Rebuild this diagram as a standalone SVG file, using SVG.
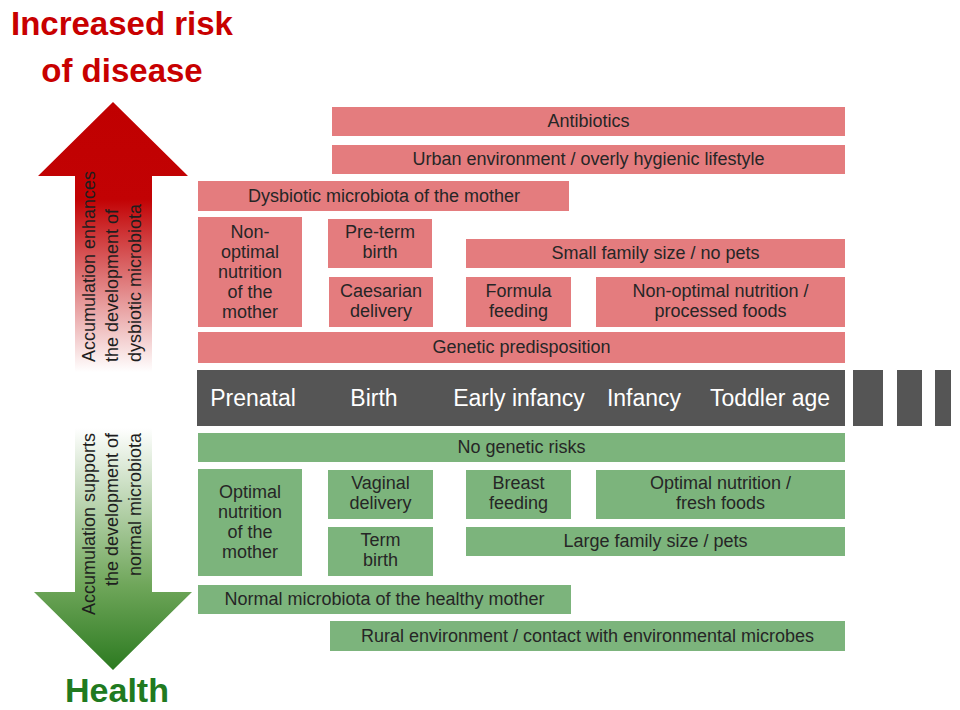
<svg xmlns="http://www.w3.org/2000/svg" width="960" height="710" viewBox="0 0 960 710">
<defs>
<linearGradient id="gRed" gradientUnits="userSpaceOnUse" x1="0" y1="102" x2="0" y2="372">
<stop offset="0" stop-color="#C00000"/>
<stop offset="0.36" stop-color="#C20204"/>
<stop offset="1" stop-color="#FFFFFF"/>
</linearGradient>
<linearGradient id="gGreen" gradientUnits="userSpaceOnUse" x1="0" y1="428" x2="0" y2="670">
<stop offset="0" stop-color="#FFFFFF"/>
<stop offset="0.65" stop-color="#6FA65A"/>
<stop offset="1" stop-color="#2C7A20"/>
</linearGradient>
</defs>
<style>
.r{fill:#E47C7E}
.g{fill:#7CB47C}
.t{font-family:"Liberation Sans",Arial,sans-serif;font-size:18px;fill:#262626;text-anchor:middle}
.tl{font-family:"Liberation Sans",Arial,sans-serif;font-size:23px;fill:#FFFFFF;text-anchor:middle}
.bar{fill:#555555}
.v{font-family:"Liberation Sans",Arial,sans-serif;font-size:18px;fill:#1E1E1E}
.title{font-family:"Liberation Sans",Arial,sans-serif;font-weight:bold;text-anchor:middle}
</style>
<rect width="960" height="710" fill="#FFFFFF"/>

<g id="titles">
<text class="title" x="122" y="35" font-size="33" fill="#C80000">Increased risk</text>
<text class="title" x="122" y="82" font-size="33" fill="#C80000">of disease</text>
<text class="title" x="117" y="702" font-size="34" fill="#207A20">Health</text>
</g>

<g id="arrows">
<polygon points="113,102 188,176 152,176 152,372 75,372 75,176 38,176" fill="url(#gRed)"/>
<polygon points="75,428 152,428 152,592 192,592 113,670 34,592 75,592" fill="url(#gGreen)"/>
<g class="v">
<text transform="translate(95,362) rotate(-90)">Accumulation enhances</text>
<text transform="translate(118,362) rotate(-90)">the development of</text>
<text transform="translate(141,362) rotate(-90)">dysbiotic microbiota</text>
<text transform="translate(95,433) rotate(-90)" text-anchor="end">Accumulation supports</text>
<text transform="translate(118,433) rotate(-90)" text-anchor="end">the development of</text>
<text transform="translate(141,433) rotate(-90)" text-anchor="end">normal microbiota</text>
</g>
</g>

<g id="antibiotics"><rect class="r" x="332" y="107" width="513" height="29"/><text class="t" x="588.5" y="127">Antibiotics</text></g>
<g id="urban"><rect class="r" x="332" y="145" width="513" height="29"/><text class="t" x="588.5" y="165">Urban environment / overly hygienic lifestyle</text></g>
<g id="dysbiotic-mother"><rect class="r" x="198" y="181" width="371" height="30"/><text class="t" x="384" y="202">Dysbiotic microbiota of the mother</text></g>
<g id="nonoptimal-mother"><rect class="r" x="198" y="217" width="104" height="110"/>
<text class="t" x="250" y="238">Non-</text><text class="t" x="250" y="258">optimal</text><text class="t" x="250" y="278">nutrition</text><text class="t" x="250" y="298">of the</text><text class="t" x="250" y="318">mother</text></g>
<g id="preterm"><rect class="r" x="328" y="219" width="104" height="49"/><text class="t" x="380" y="238">Pre-term</text><text class="t" x="380" y="258">birth</text></g>
<g id="caesarian"><rect class="r" x="329" y="277" width="104" height="50"/><text class="t" x="381" y="297">Caesarian</text><text class="t" x="381" y="317">delivery</text></g>
<g id="small-family"><rect class="r" x="466" y="239" width="379" height="29"/><text class="t" x="655.5" y="259">Small family size / no pets</text></g>
<g id="formula"><rect class="r" x="466" y="277" width="105" height="50"/><text class="t" x="518.5" y="297">Formula</text><text class="t" x="518.5" y="317">feeding</text></g>
<g id="processed"><rect class="r" x="596" y="277" width="249" height="50"/><text class="t" x="720.5" y="297">Non-optimal nutrition /</text><text class="t" x="720.5" y="317">processed foods</text></g>
<g id="genetic"><rect class="r" x="198" y="332" width="647" height="31"/><text class="t" x="521.5" y="353">Genetic predisposition</text></g>

<g id="timeline">
<rect class="bar" x="197" y="370" width="648" height="56"/>
<rect class="bar" x="853" y="370" width="30" height="56"/>
<rect class="bar" x="897" y="370" width="25" height="56"/>
<rect class="bar" x="935" y="370" width="16" height="56"/>
<text class="tl" x="253" y="406">Prenatal</text>
<text class="tl" x="374" y="406">Birth</text>
<text class="tl" x="519" y="406">Early infancy</text>
<text class="tl" x="644" y="406">Infancy</text>
<text class="tl" x="770" y="406">Toddler age</text>
</g>

<g id="no-genetic"><rect class="g" x="198" y="433" width="647" height="29"/><text class="t" x="521.5" y="453">No genetic risks</text></g>
<g id="optimal-mother"><rect class="g" x="198" y="469" width="104" height="107"/>
<text class="t" x="250" y="498">Optimal</text><text class="t" x="250" y="518">nutrition</text><text class="t" x="250" y="538">of the</text><text class="t" x="250" y="558">mother</text></g>
<g id="vaginal"><rect class="g" x="328" y="470" width="105" height="49"/><text class="t" x="380.5" y="489">Vaginal</text><text class="t" x="380.5" y="509">delivery</text></g>
<g id="term"><rect class="g" x="328" y="527" width="105" height="49"/><text class="t" x="380.5" y="546">Term</text><text class="t" x="380.5" y="566">birth</text></g>
<g id="breast"><rect class="g" x="466" y="470" width="105" height="49"/><text class="t" x="518.5" y="489">Breast</text><text class="t" x="518.5" y="509">feeding</text></g>
<g id="fresh"><rect class="g" x="596" y="470" width="249" height="49"/><text class="t" x="720.5" y="489">Optimal nutrition /</text><text class="t" x="720.5" y="509">fresh foods</text></g>
<g id="large-family"><rect class="g" x="466" y="527" width="379" height="29"/><text class="t" x="655.5" y="547">Large family size / pets</text></g>
<g id="normal-mother"><rect class="g" x="198" y="585" width="373" height="29"/><text class="t" x="384.5" y="605">Normal microbiota of the healthy mother</text></g>
<g id="rural"><rect class="g" x="330" y="621" width="515" height="30"/><text class="t" x="587.5" y="642">Rural environment / contact with environmental microbes</text></g>
</svg>
